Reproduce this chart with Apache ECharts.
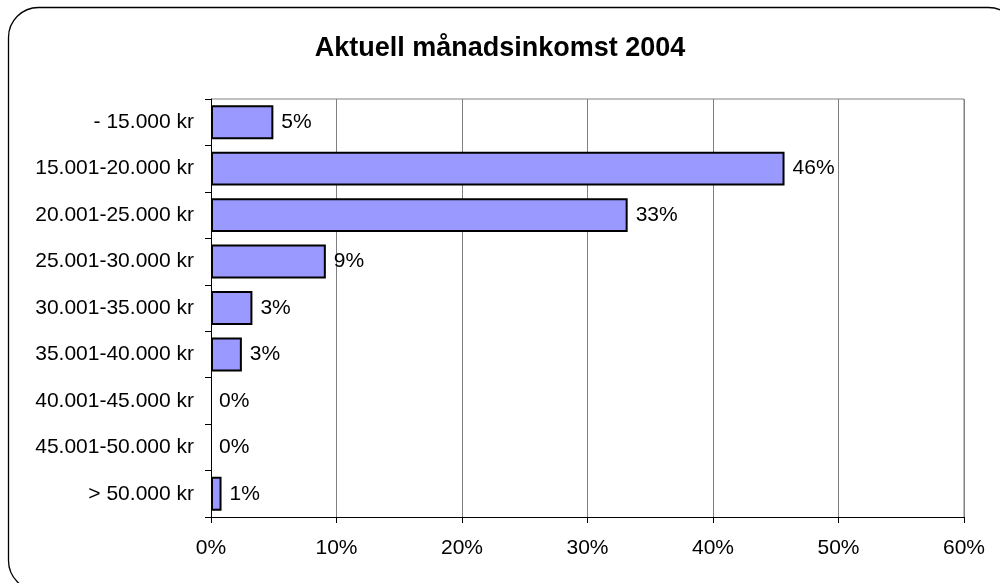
<!DOCTYPE html>
<html>
<head>
<meta charset="utf-8">
<script src="https://cdn.jsdelivr.net/npm/echarts@6/dist/echarts.min.js"></script>
<style>
  html, body { margin: 0; padding: 0; background: #fff; }
  #biao { width: 1000px; height: 583px; }
</style>
</head>
<body>
<div id="biao"></div>
<script>
// kategorier uppifrån och ned
var kategorier = ['- 15.000 kr', '15.001-20.000 kr', '20.001-25.000 kr', '25.001-30.000 kr',
    '30.001-35.000 kr', '35.001-40.000 kr', '40.001-45.000 kr', '45.001-50.000 kr', '> 50.000 kr'];
// andel i procent
var andelar = [4.97, 45.7, 33.2, 9.15, 3.3, 2.46, 0, 0, 0.84];
var etiketter = ['5%', '46%', '33%', '9%', '3%', '3%', '0%', '0%', '1%'];

function initBiao(){
    var myChart = echarts.init(document.getElementById('biao'));
    var font = 'Arial, "Liberation Sans", sans-serif';
    var ram = {
        type: 'rect',
        shape: { x: 8.5, y: 7.5, width: 1010, height: 583, r: 30 },
        style: { fill: 'none', stroke: '#000', lineWidth: 1.3 },
        silent: true,
        z: -1
    };
    // staplar med värdet 0 ritas utan kant
    var staplar = andelar.map(function (v) {
        return v === 0 ? { value: v, itemStyle: { borderWidth: 0 } } : v;
    });
    var option = {
        animation: false,
        textStyle: { fontFamily: font },
        title: {
            text: 'Aktuell månadsinkomst 2004',
            left: 'center',
            top: 30,
            textStyle: { fontSize: 27, fontWeight: 'bold', color: '#000', fontFamily: font }
        },
        graphic: [ram],
        grid: { left: 211, right: 36, top: 99, bottom: 66 },
        xAxis: {
            type: 'value',
            min: 0,
            max: 60,
            interval: 10,
            axisLine: { show: true, lineStyle: { color: '#000' } },
            axisTick: { show: true, length: 6, lineStyle: { color: '#000' } },
            axisLabel: {
                formatter: '{value}%',
                fontSize: 21,
                color: '#000',
                margin: 21,
                fontFamily: font
            },
            splitLine: { show: true, lineStyle: { color: '#808080', width: 1 } }
        },
        yAxis: {
            type: 'category',
            data: kategorier,
            inverse: true,
            axisLine: { show: true, lineStyle: { color: '#000' } },
            axisTick: { show: true, length: 6, lineStyle: { color: '#000' } },
            axisLabel: { fontSize: 21, color: '#000', margin: 17, fontFamily: font }
        },
        series: [{
            type: 'bar',
            data: staplar,
            barCategoryGap: '27%',
            itemStyle: { color: '#9999FF', borderColor: '#000', borderWidth: 2 },
            label: {
                show: true,
                position: 'right',
                distance: 8,
                fontSize: 21,
                color: '#000',
                fontFamily: font,
                formatter: function (p) { return etiketter[p.dataIndex]; }
            }
        }]
    };
    myChart.setOption(option);
    // grå ram överst och till höger om ritytan
    var r = myChart.getModel().getComponent('grid').coordinateSystem.getRect();
    myChart.setOption({
        graphic: [ram, {
            type: 'polyline',
            shape: { points: [[r.x, r.y], [r.x + r.width, r.y], [r.x + r.width, r.y + r.height]] },
            style: { stroke: '#808080', lineWidth: 1, fill: 'none' },
            silent: true
        }]
    });
}
initBiao();
</script>
</body>
</html>
